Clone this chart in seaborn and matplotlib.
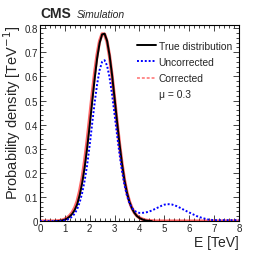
import numpy as np
import pandas as pd
import seaborn as sns
from matplotlib import pyplot as plt
from matplotlib.lines import Line2D
from matplotlib.ticker import MultipleLocator

# energy grid [TeV]
e_full = np.round(np.arange(0.0, 8.01, 0.1), 1)
e_true = np.round(np.arange(0.6, 4.55, 0.1), 1)

true_density = [
    0.0, 0.0, 0.001, 0.003, 0.006, 0.011, 0.019, 0.030, 0.046, 0.070,
    0.108, 0.158, 0.223, 0.303, 0.395, 0.493, 0.589, 0.674, 0.738, 0.774,
    0.777, 0.748, 0.688, 0.607, 0.512, 0.414, 0.321, 0.238, 0.170, 0.118,
    0.080, 0.053, 0.034, 0.021, 0.013, 0.008, 0.004, 0.002, 0.001, 0.0,
]

uncorrected_density = [
    0.0, 0.0, 0.0, 0.0, 0.0, 0.0, 0.0, 0.0, 0.0, 0.001,
    0.003, 0.006, 0.011, 0.019, 0.031, 0.050, 0.078, 0.117, 0.168, 0.233,
    0.313, 0.403, 0.490, 0.567, 0.626, 0.660, 0.667, 0.645, 0.596, 0.526,
    0.444, 0.359, 0.279, 0.208, 0.150, 0.106, 0.075, 0.055, 0.043, 0.037,
    0.034, 0.034, 0.035, 0.037, 0.040, 0.044, 0.049, 0.054, 0.059, 0.064,
    0.068, 0.070, 0.070, 0.069, 0.066, 0.062, 0.057, 0.052, 0.046, 0.041,
    0.036, 0.031, 0.026, 0.021, 0.017, 0.014, 0.011, 0.008, 0.006, 0.005,
    0.004, 0.004, 0.004, 0.004, 0.004, 0.004, 0.004, 0.004, 0.004, 0.004,
    0.004,
]

corrected_density = [
    0.0, 0.0, 0.0, 0.0, 0.0, 0.0, 0.0, 0.001, 0.002, 0.004,
    0.008, 0.014, 0.023, 0.036, 0.055, 0.083, 0.125, 0.180, 0.250, 0.333,
    0.427, 0.523, 0.613, 0.690, 0.746, 0.776, 0.775, 0.744, 0.684, 0.603,
    0.509, 0.412, 0.320, 0.238, 0.170, 0.118, 0.081, 0.054, 0.035, 0.022,
    0.014, 0.009, 0.005, 0.003, 0.002, 0.001, 0.0, 0.0, 0.0, 0.0,
    0.0, 0.0, 0.0, 0.0, 0.0, 0.0, 0.0, 0.0, 0.0, 0.0,
    0.0, 0.0, 0.0, 0.0, 0.0, 0.0, 0.0, 0.0, 0.0, 0.0,
    0.0, 0.0, 0.0, 0.0, 0.0, 0.0, 0.0, 0.0, 0.0, 0.0,
    0.0,
]

labels = ["True distribution", "Uncorrected", "Corrected"]
mu_text = "\u03bc = 0.3"

df_true = pd.DataFrame({"E": e_true, "density": true_density})
df_unc = pd.DataFrame({"E": e_full, "density": uncorrected_density})
df_cor = pd.DataFrame({"E": e_full, "density": corrected_density})

sns.set_style("ticks")
plt.rcParams["font.family"] = ["Liberation Sans", "DejaVu Sans"]

fig = plt.figure(figsize=(2.66, 2.55), dpi=100)
ax = fig.add_axes([0.150, 0.129, 0.748, 0.769])

sns.lineplot(data=df_cor, x="E", y="density", ax=ax, color="red", alpha=0.6,
             linewidth=2.4, label=labels[2], zorder=2)
sns.lineplot(data=df_true, x="E", y="density", ax=ax, color="black",
             linewidth=1.4, label=labels[0], zorder=3)
sns.lineplot(data=df_unc, x="E", y="density", ax=ax, color="blue",
             linewidth=1.4, linestyle=(0, (1, 1)), label=labels[1], zorder=4)

ax.set_xlim(0, 8)
ax.set_ylim(0, 0.813)
ax.xaxis.set_major_locator(MultipleLocator(1))
ax.xaxis.set_minor_locator(MultipleLocator(0.2))
ax.yaxis.set_minor_locator(MultipleLocator(0.02))
ax.set_yticks(np.arange(0, 0.81, 0.1))
ax.set_yticklabels(["0", "0.1", "0.2", "0.3", "0.4", "0.5", "0.6", "0.7", "0.8"])
ax.tick_params(which="both", direction="in", top=True, right=True,
               labelsize=7, width=0.6, pad=1.5)
ax.tick_params(which="major", length=4.5)
ax.tick_params(which="minor", length=2.2)
for s in ax.spines.values():
    s.set_linewidth(0.8)
    s.set_color("black")

ax.set_xlabel("E [TeV]", loc="right", fontsize=10, labelpad=1)
ax.set_ylabel("Probability density [TeV$^{-1}$]", loc="top", fontsize=10.5, labelpad=1)

handles = [
    Line2D([], [], color="black", linewidth=1.4),
    Line2D([], [], color="blue", linewidth=1.4, linestyle=(0, (1, 1))),
    Line2D([], [], color="red", alpha=0.45, linewidth=1.4, linestyle=(0, (1.5, 1))),
    Line2D([], [], color="none"),
]
ax.legend(handles, labels + [mu_text], loc="upper left", bbox_to_anchor=(0.465, 0.94),
          frameon=False, fontsize=7.4, handlelength=1.9, handletextpad=0.25,
          labelspacing=0.6, borderaxespad=0)

fig.text(0.150, 0.928, "CMS", fontsize=10, fontweight="bold", va="baseline")
fig.text(0.290, 0.928, "Simulation", fontsize=7.5, fontstyle="italic", va="baseline")

fig.savefig("out.png", dpi=100)
